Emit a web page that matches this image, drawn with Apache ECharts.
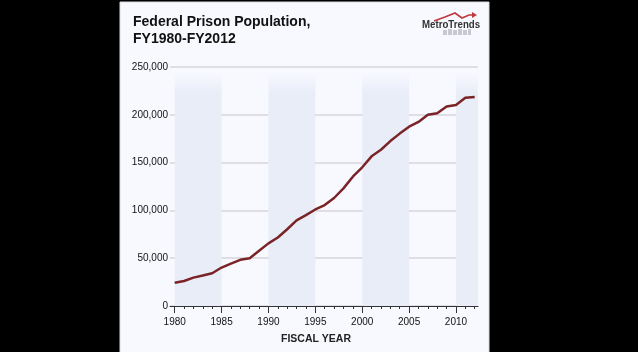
<!DOCTYPE html>
<html><head><meta charset="utf-8">
<script src="https://cdn.jsdelivr.net/npm/echarts@6/dist/echarts.min.js"></script>
<style>html,body{margin:0;padding:0;background:#000;}#c{width:638px;height:352px;}</style>
</head><body><div id="c"></div>
<script>
const years = [1980,1981,1982,1983,1984,1985,1986,1987,1988,1989,1990,1991,1992,1993,1994,1995,1996,1997,1998,1999,2000,2001,2002,2003,2004,2005,2006,2007,2008,2009,2010,2011,2012];
const population = [24252,26195,29673,31926,34263,40223,44408,48300,49928,57762,65526,71608,80259,89587,95034,100958,105544,112973,123041,135246,145125,156572,163436,172499,180328,187618,192584,200020,201668,208759,210227,217768,218687];
const xLabelYears = [1980,1985,1990,1995,2000,2005,2010];
const bandStarts = [1980,1990,2000,2010];
const bandEnds = [1985,1995,2005,2015];
const yTicks = [0,50000,100000,150000,200000,250000];
const bandTop = 242000;

const chart = echarts.init(document.getElementById('c'), null, {renderer:'canvas'});
const font = 'Liberation Sans, Arial, sans-serif';
const bandColor = {type:'linear',x:0,y:0,x2:0,y2:1,colorStops:[
  {offset:0,color:'rgba(233,237,248,0.1)'},{offset:0.08,color:'#e9edf8'},{offset:1,color:'#e9edf8'}]};

chart.setOption({
  backgroundColor:'#000',
  animation:false,
  graphic:[
    {type:'rect',shape:{x:120,y:2,width:369,height:352},style:{fill:'#f8f9fe',stroke:'#d8d8e0',lineWidth:1},z:-10},
    {type:'text',left:133,top:14,style:{text:'Federal Prison Population,\nFY1980-FY2012',font:'bold 14px '+font,fill:'#111',lineHeight:17}},
    {type:'text',x:316,y:334,style:{text:'FISCAL YEAR',font:'bold 10.5px '+font,fill:'#222',textAlign:'center'}},
    {type:'polyline',shape:{points:[[434,21],[445,17],[455,13],[462,18],[469,15],[474,15]]},style:{stroke:'#c0393b',lineWidth:1.6,fill:null}},
    {type:'polygon',shape:{points:[[472,12],[477,15],[472,18]]},style:{fill:'#c0393b'}},
    {type:'text',x:422,y:19,scaleX:0.88,style:{text:'MetroTrends',font:'bold 11px '+font,fill:'#333'}},
    {type:'group',children:[
      {type:'rect',shape:{x:443,y:30,width:4,height:5},style:{fill:'#c8c8d0'}},
      {type:'rect',shape:{x:448,y:29,width:4,height:6},style:{fill:'#c8c8d0'}},
      {type:'rect',shape:{x:453,y:30,width:4,height:5},style:{fill:'#c8c8d0'}},
      {type:'rect',shape:{x:458,y:29,width:4,height:6},style:{fill:'#c8c8d0'}},
      {type:'rect',shape:{x:463,y:30,width:4,height:5},style:{fill:'#c8c8d0'}},
      {type:'rect',shape:{x:468,y:29,width:3,height:6},style:{fill:'#c8c8d0'}}
    ]}
  ],
  grid:{left:170,right:160,top:67,bottom:46,containLabel:false},
  xAxis:[{
    type:'value',min:1979.5,max:2012.35,
    axisLine:{show:true,lineStyle:{color:'#333',width:1}},
    axisTick:{show:true,customValues:years,length:3,lineStyle:{color:'#333'}},
    axisLabel:{customValues:xLabelYears,formatter:v=>String(v),fontSize:10,fontFamily:font,color:'#111',margin:11},
    splitLine:{show:false}
  },{
    type:'value',min:1979.5,max:2012.35,position:'bottom',
    axisLine:{show:false},
    axisTick:{show:true,customValues:xLabelYears,length:7,lineStyle:{color:'#333'}},
    axisLabel:{show:false},splitLine:{show:false}
  }],
  yAxis:{
    type:'value',min:0,max:250000,interval:50000,
    axisLine:{show:false},axisTick:{show:false},
    axisLabel:{customValues:yTicks,formatter:v=>v.toLocaleString('en-US'),fontSize:10,fontFamily:font,color:'#111',margin:2},
    splitLine:{lineStyle:{color:'#e1dde4',width:2}}
  },
  series:[{
    type:'line',data:years.map((y,i)=>[y,population[i]]),
    showSymbol:false,symbol:'none',
    lineStyle:{color:'#7a2428',width:2.5},
    z:5,
    markArea:{silent:true,itemStyle:{color:bandColor},
      data:bandStarts.map((s,i)=>[{xAxis:s,yAxis:0},{xAxis:bandEnds[i],yAxis:bandTop}])}
  }]
});
</script></body></html>
